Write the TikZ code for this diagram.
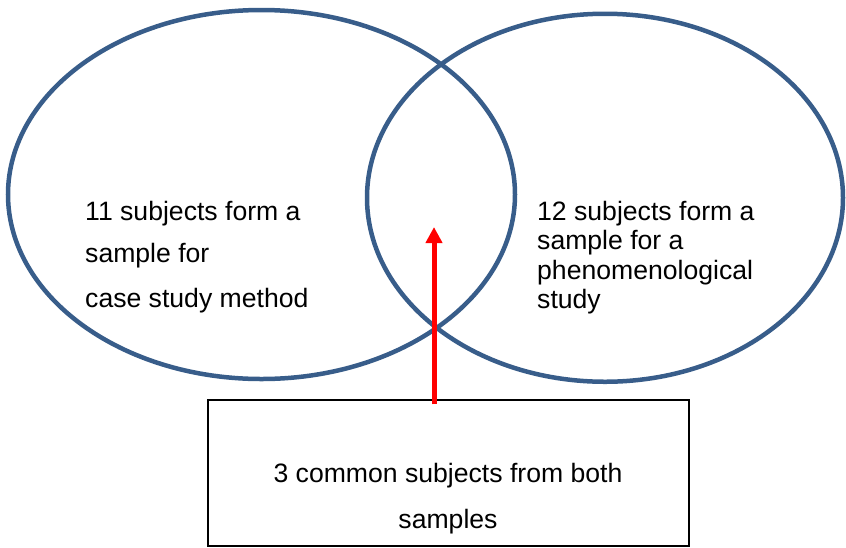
\documentclass[tikz,border=0pt]{standalone}
\usepackage{fontspec}
\setmainfont{Liberation Sans}
\usetikzlibrary{shapes.geometric,arrows.meta}
\definecolor{setblue}{RGB}{56,93,138}
\begin{document}
\begin{tikzpicture}[x=1pt,y=-1pt,
  setring/.style={ellipse,draw=setblue,line width=4.5pt,inner sep=0pt},
  label/.style={font=\fontsize{26.6}{30}\selectfont,inner sep=0pt},
  notebox/.style={draw=black,line width=1.4pt,inner sep=0pt},
  pointer/.style={draw=red,line width=5pt,-{Triangle[length=16pt,width=16pt]}}]
  \useasboundingbox (0,0) rectangle (846,547);
  % the two sample sets
  \node[setring,minimum width=507pt,minimum height=369pt] (L) at (261.5,194.5) {};
  \node[setring,minimum width=476pt,minimum height=368pt] (R) at (605,197.75) {};
  % left set text
  \node[label,anchor=base west] (l1) at (85,220) {11 subjects form a};
  \node[label,anchor=base west] (l2) at (85,262) {sample for};
  \node[label,anchor=base west] (l3) at (85,307) {case study method};
  % right set text
  \node[label,anchor=base west] (r1) at (537,220) {12 subjects form a};
  \node[label,anchor=base west] (r2) at (537,249) {sample for a};
  \node[label,anchor=base west] (r3) at (537,279) {phenomenological};
  \node[label,anchor=base west] (r4) at (537,308) {study};
  % note box for the shared subjects
  \node[notebox,minimum width=481pt,minimum height=146pt] (B) at (448.5,473) {};
  \node[label,anchor=base] (b1) at (448,482) {3 common subjects from both};
  \node[label,anchor=base] (b2) at (448,528) {samples};
  % arrow into the overlap
  \coordinate (tip) at (434,227);
  \draw[pointer] ([yshift=-5pt]B.north -| tip) -- (tip);
\end{tikzpicture}
\end{document}
